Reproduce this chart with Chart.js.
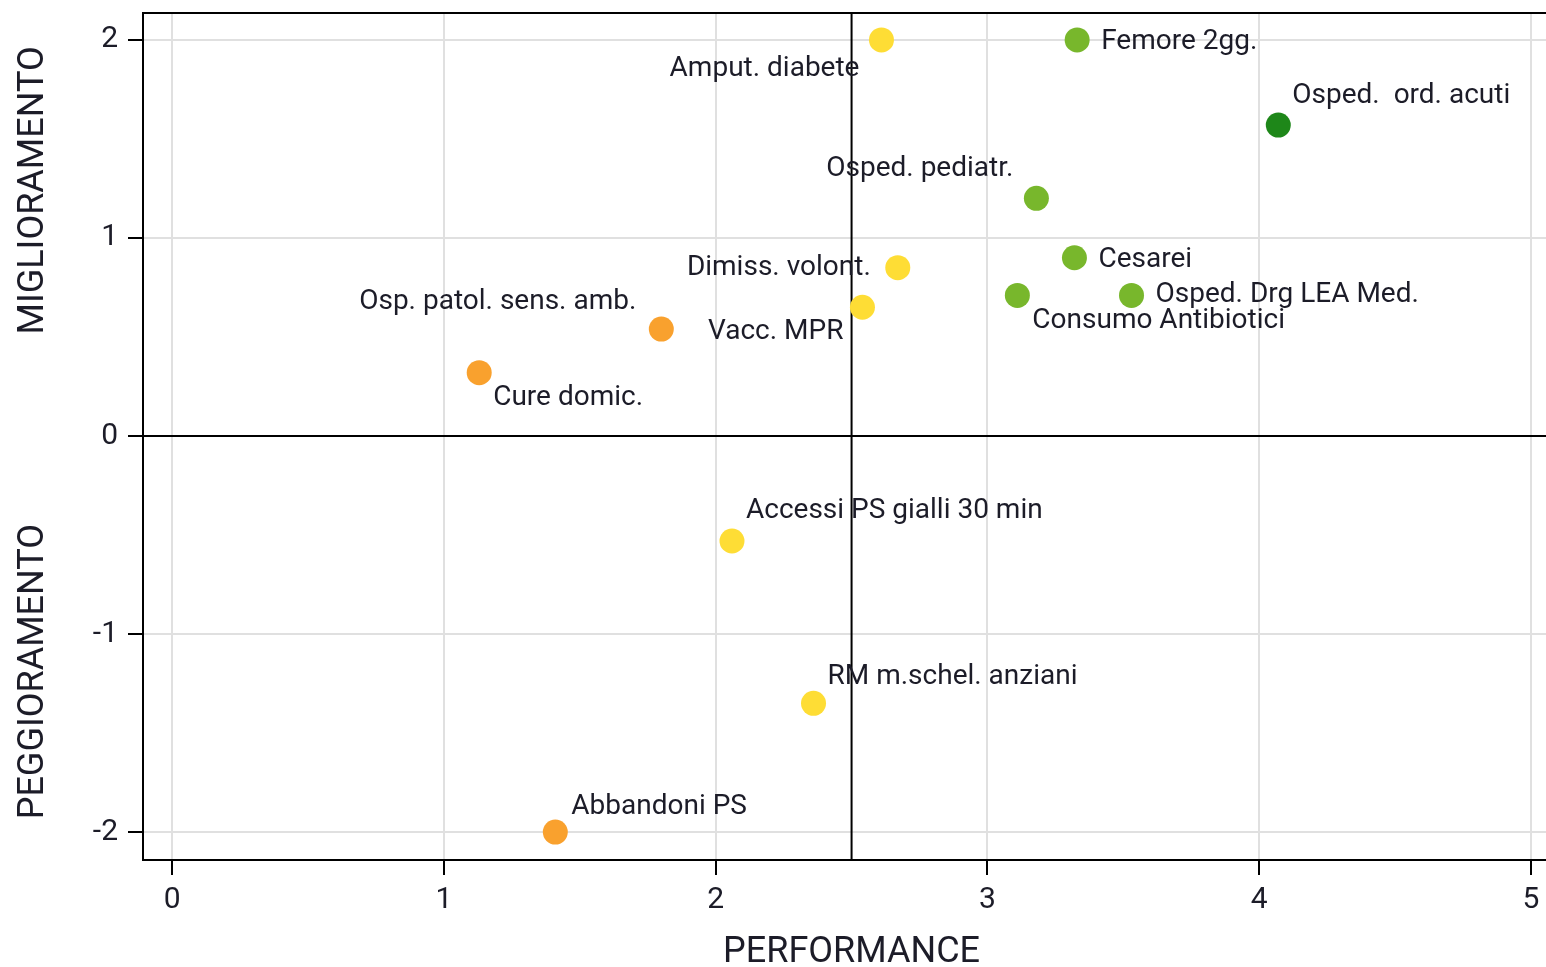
<!DOCTYPE html>
<html>
<head>
<meta charset="utf-8">
<script src="https://cdn.jsdelivr.net/npm/chart.js@4.4.1/dist/chart.umd.min.js"></script>
<style>
  html, body { margin: 0; padding: 0; background: #fff; overflow: hidden; }
  #wrap { width: 1546px; height: 967px; }
</style>
</head>
<body>
<div id="wrap"><canvas id="chart" width="1546" height="967"></canvas></div>
<script>
// indicatori
const labels = [
    'Amput. diabete', 'Femore 2gg.', 'Osped.  ord. acuti', 'Osped. pediatr.',
    'Cesarei', 'Dimiss. volont.', 'Osped. Drg LEA Med.', 'Consumo Antibiotici',
    'Vacc. MPR', 'Osp. patol. sens. amb.', 'Cure domic.',
    'Accessi PS gialli 30 min', 'RM m.schel. anziani', 'Abbandoni PS'
];
const performance = [2.61, 3.33, 4.07, 3.18, 3.32, 2.67, 3.53, 3.11, 2.54, 1.80, 1.13, 2.06, 2.36, 1.41];
const miglioramento = [2.0, 2.0, 1.57, 1.20, 0.90, 0.85, 0.71, 0.71, 0.65, 0.54, 0.32, -0.53, -1.35, -2.0];
const fascia = ['giallo', 'verde', 'verdeScuro', 'verde', 'verde', 'giallo', 'verde', 'verde',
    'giallo', 'arancio', 'arancio', 'giallo', 'giallo', 'arancio'];

const xTicks = [0, 1, 2, 3, 4, 5];
const yTicks = [-2, -1, 0, 1, 2];
const xSplit = 2.5;
const ySplit = 0;

const COLORS = {
    verdeScuro: '#1e8719',
    verde: '#78b72c',
    giallo: '#fedd35',
    arancio: '#f9a12e'
};
const TEXT = '#1c1c28';
const FONT = 'Roboto, "DejaVu Sans", sans-serif';

// posizione etichette rispetto al punto: [dx, dy, allineamento]
const labelPos = {
    'Amput. diabete': [-22, 29, 'right'],
    'Femore 2gg.': [24, 2, 'left'],
    'Osped.  ord. acuti': [14, -29, 'left'],
    'Osped. pediatr.': [-23, -29, 'right'],
    'Cesarei': [24, 2, 'left'],
    'Dimiss. volont.': [-27, 0, 'right'],
    'Osped. Drg LEA Med.': [24, 0, 'left'],
    'Consumo Antibiotici': [15, 26, 'left'],
    'Vacc. MPR': [-19, 25, 'right'],
    'Osp. patol. sens. amb.': [-25, -27, 'right'],
    'Cure domic.': [14, 25, 'left'],
    'Accessi PS gialli 30 min': [14, -30, 'left'],
    'RM m.schel. anziani': [14, -26, 'left'],
    'Abbandoni PS': [16, -25, 'left']
};

const points = labels.map((l, i) => ({ x: performance[i], y: miglioramento[i] }));

const quadrantPlugin = {
    id: 'quadrant',
    beforeDatasetsDraw(chart) {
        const { ctx, chartArea, scales } = chart;
        const xs = scales.x.getPixelForValue(xSplit);
        const ys = scales.y.getPixelForValue(ySplit);
        ctx.save();
        ctx.strokeStyle = '#000';
        ctx.lineWidth = 2;
        ctx.beginPath();
        ctx.moveTo(xs, chartArea.top);
        ctx.lineTo(xs, chartArea.bottom);
        ctx.moveTo(chartArea.left, ys);
        ctx.lineTo(chartArea.right, ys);
        ctx.moveTo(chartArea.left - 1, chartArea.top);
        ctx.lineTo(chartArea.right, chartArea.top);
        ctx.stroke();
        ctx.restore();
    },
    afterDatasetsDraw(chart) {
        const { ctx, scales } = chart;
        const meta = chart.getDatasetMeta(0);
        ctx.save();
        ctx.fillStyle = TEXT;
        ctx.font = '28px ' + FONT;
        ctx.textBaseline = 'middle';
        meta.data.forEach((el, i) => {
            const p = labelPos[labels[i]];
            ctx.textAlign = p[2];
            ctx.fillText(labels[i], el.x + p[0], el.y + p[1]);
        });

        // titoli degli assi
        ctx.font = '36px ' + FONT;
        ctx.textAlign = 'center';
        ctx.fillText('PERFORMANCE', scales.x.getPixelForValue(xSplit), 953);
        const drawV = (txt, yv) => {
            ctx.save();
            ctx.translate(34, scales.y.getPixelForValue(yv));
            ctx.rotate(-Math.PI / 2);
            ctx.fillText(txt, 0, 0);
            ctx.restore();
        };
        drawV('MIGLIORAMENTO', 1.24);
        drawV('PEGGIORAMENTO', -1.19);
        ctx.restore();
    }
};

new Chart(document.getElementById('chart'), {
    type: 'scatter',
    data: {
        datasets: [{
            data: points,
            backgroundColor: fascia.map(f => COLORS[f]),
            borderWidth: 0,
            pointRadius: 12.5,
            pointHoverRadius: 12.5
        }]
    },
    options: {
        responsive: false,
        animation: false,
        devicePixelRatio: 1,
        layout: { autoPadding: false, padding: { top: 13, right: 0, left: 0, bottom: 0 } },
        plugins: { legend: { display: false }, tooltip: { enabled: false } },
        scales: {
            x: {
                type: 'linear',
                min: -0.107,
                max: 5.055,
                afterBuildTicks: scale => { scale.ticks = xTicks.map(v => ({ value: v })); },
                afterFit: scale => {
                    scale.height = 107;
                    scale.paddingLeft = 0;
                    scale.paddingRight = 0;
                },
                grid: { color: '#e0e0e0', lineWidth: 2, tickColor: '#000', tickWidth: 2, tickLength: 15 },
                border: { display: true, color: '#000', width: 2 },
                ticks: { color: TEXT, font: { family: FONT, size: 30 }, padding: 7 }
            },
            y: {
                type: 'linear',
                min: -2.141,
                max: 2.136,
                afterBuildTicks: scale => { scale.ticks = yTicks.map(v => ({ value: v })); },
                afterFit: scale => {
                    scale.width = 143;
                    scale.paddingTop = 0;
                    scale.paddingBottom = 0;
                },
                grid: { color: '#e0e0e0', lineWidth: 2, tickColor: '#000', tickWidth: 2, tickLength: 15 },
                border: { display: true, color: '#000', width: 2 },
                ticks: { color: TEXT, font: { family: FONT, size: 30 }, padding: 10 }
            }
        }
    },
    plugins: [quadrantPlugin]
});
</script>
</body>
</html>
